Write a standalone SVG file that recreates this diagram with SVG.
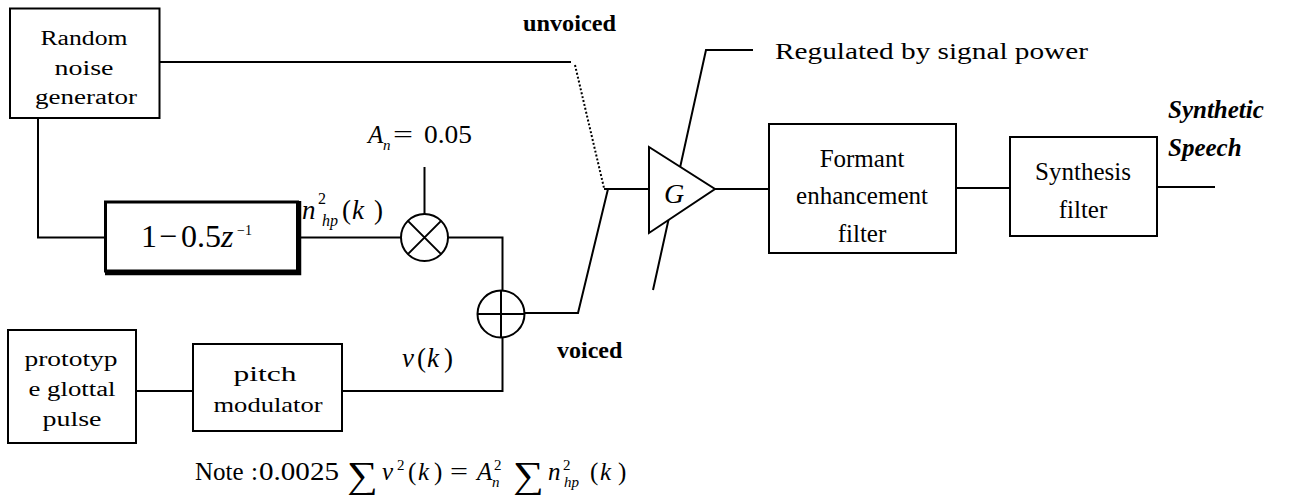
<svg xmlns="http://www.w3.org/2000/svg" width="1295" height="495" viewBox="0 0 1295 495">
<style>
.box{fill:#fff;stroke:#000;stroke-width:2}
.ln{fill:none;stroke:#000;stroke-width:2}
.t{font-family:"Liberation Serif","Times New Roman",serif;fill:#000}
.i{font-style:italic}
.b{font-weight:bold}
.sig{font-family:"Liberation Serif","DejaVu Serif",serif;fill:#000}
</style>
<rect width="1295" height="495" fill="#fff"/>
<g id="connectors">
<path class="ln" d="M160,62 H571"/>
<path class="ln" d="M575,65 L604,188" stroke-dasharray="2,2"/>
<path class="ln" d="M38,118 V237.5 H105"/>
<path class="ln" d="M300,237.5 H401"/>
<path class="ln" d="M424.5,167 V214"/>
<path class="ln" d="M448,237.5 H502.5 V290"/>
<path class="ln" d="M136,391 H193"/>
<path class="ln" d="M342,391 H502.5 V338"/>
<path class="ln" d="M525,313 H578 L608,189"/>
<path class="ln" d="M604,189 H649"/>
<path class="ln" d="M653,290 L706,50 H753"/>
<path class="ln" d="M715,189 H769"/>
<path class="ln" d="M956,188 H1010"/>
<path class="ln" d="M1157,187 H1215"/>
</g>
<g id="noise">
<rect class="box" x="10" y="8.5" width="149.5" height="109.5"/>
<text class="t" font-size="20" x="84" y="45" text-anchor="middle" textLength="87" lengthAdjust="spacingAndGlyphs">Random</text>
<text class="t" font-size="20" x="84" y="75" text-anchor="middle" textLength="59" lengthAdjust="spacingAndGlyphs">noise</text>
<text class="t" font-size="20" x="86" y="104" text-anchor="middle" textLength="102" lengthAdjust="spacingAndGlyphs">generator</text>
</g>
<g id="hpfilter">
<rect x="105.5" y="202" width="192" height="69" fill="#fff" stroke="#000" stroke-width="3"/>
<path d="M299.5,201 V273.5 H105" fill="none" stroke="#000" stroke-width="3.5"/>
<text class="t" font-size="32" y="247"><tspan x="141">1</tspan><tspan x="159">−</tspan><tspan x="181">0.5</tspan><tspan x="221" class="i">z</tspan></text>
<text class="t" font-size="14" y="235"><tspan x="237">−1</tspan></text>
</g>
<g id="nhp-label">
<text class="t i" font-size="27" x="302" y="219">n</text>
<text class="t" font-size="16" x="318" y="204">2</text>
<text class="t i" font-size="16" x="322" y="226">hp</text>
<text class="t" font-size="27" y="219"><tspan x="342">(</tspan><tspan x="352" class="i">k</tspan><tspan x="374">)</tspan></text>
</g>
<g id="gain-label">
<text class="t i" font-size="25" x="368" y="143">A</text>
<text class="t i" font-size="15" x="383" y="150">n</text>
<text class="t" font-size="25" x="393" y="143" textLength="20" lengthAdjust="spacingAndGlyphs">=</text>
<text class="t" font-size="25" x="424" y="143" textLength="48" lengthAdjust="spacingAndGlyphs">0.05</text>
</g>
<g id="multiplier">
<circle cx="424.5" cy="237.5" r="23.5" fill="#fff" stroke="#000" stroke-width="2"/>
<path class="ln" d="M407.9,220.9 L441.1,254.1 M441.1,220.9 L407.9,254.1"/>
</g>
<g id="adder">
<circle cx="501" cy="314" r="23.5" fill="#fff" stroke="#000" stroke-width="2"/>
<path class="ln" d="M477.5,314 H524.5 M501,290.5 V337.5"/>
</g>
<g id="prototype">
<rect class="box" x="8" y="330" width="128" height="113"/>
<text class="t" font-size="20" x="71" y="366" text-anchor="middle" textLength="93" lengthAdjust="spacingAndGlyphs">prototyp</text>
<text class="t" font-size="20" x="72" y="396" text-anchor="middle" textLength="87" lengthAdjust="spacingAndGlyphs">e glottal</text>
<text class="t" font-size="20" x="72" y="426" text-anchor="middle" textLength="59" lengthAdjust="spacingAndGlyphs">pulse</text>
</g>
<g id="pitch">
<rect class="box" x="193" y="344" width="149" height="87"/>
<text class="t" font-size="21" x="265" y="381" text-anchor="middle" textLength="63" lengthAdjust="spacingAndGlyphs">pitch</text>
<text class="t" font-size="21" x="268" y="412" text-anchor="middle" textLength="109" lengthAdjust="spacingAndGlyphs">modulator</text>
</g>
<g id="vk-label">
<text class="t" font-size="27" y="367"><tspan x="402" class="i">v</tspan><tspan x="417">(</tspan><tspan x="427" class="i">k</tspan><tspan x="444">)</tspan></text>
</g>
<g id="switch-labels">
<text class="t b" font-size="24" x="523" y="31" textLength="93" lengthAdjust="spacingAndGlyphs">unvoiced</text>
<text class="t b" font-size="24" x="557" y="358">voiced</text>
</g>
<g id="amplifier">
<polygon points="649,147 649,233 715,189" fill="#fff" stroke="#000" stroke-width="2"/>
<text class="t i" font-size="28" x="664" y="203">G</text>
</g>
<g id="regulated">
<text class="t" font-size="23" x="775" y="59" textLength="313" lengthAdjust="spacingAndGlyphs">Regulated by signal power</text>
</g>
<g id="formant">
<rect class="box" x="769" y="124" width="187" height="129"/>
<text class="t" font-size="25" x="862" y="167" text-anchor="middle">Formant</text>
<text class="t" font-size="25" x="862" y="204" text-anchor="middle">enhancement</text>
<text class="t" font-size="25" x="862" y="242" text-anchor="middle">filter</text>
</g>
<g id="synthesis">
<rect class="box" x="1010" y="137" width="147" height="99"/>
<text class="t" font-size="25" x="1083" y="180" text-anchor="middle">Synthesis</text>
<text class="t" font-size="25" x="1083" y="218" text-anchor="middle">filter</text>
</g>
<g id="output-label">
<text class="t b i" font-size="25" x="1168" y="118">Synthetic</text>
<text class="t b i" font-size="25" x="1168" y="156">Speech</text>
</g>
<g id="note">
<text class="t" font-size="25" y="480"><tspan x="195">Note</tspan><tspan x="251">:</tspan></text>
<text class="t" font-size="25" x="259" y="480" textLength="80" lengthAdjust="spacingAndGlyphs">0.0025</text>
<text class="sig" font-size="38" x="347" y="488" textLength="31" lengthAdjust="spacingAndGlyphs">∑</text>
<text class="t i" font-size="25" x="382" y="480">v</text>
<text class="t" font-size="15" x="397" y="470">2</text>
<text class="t" font-size="25" y="480"><tspan x="408">(</tspan><tspan x="418" class="i">k</tspan><tspan x="434">)</tspan></text>
<text class="t" font-size="25" x="450" y="480" textLength="18" lengthAdjust="spacingAndGlyphs">=</text>
<text class="t i" font-size="25" x="477" y="480">A</text>
<text class="t" font-size="15" x="494" y="470">2</text>
<text class="t i" font-size="15" x="492" y="487">n</text>
<text class="sig" font-size="38" x="513" y="488" textLength="31" lengthAdjust="spacingAndGlyphs">∑</text>
<text class="t i" font-size="25" x="548" y="480">n</text>
<text class="t" font-size="15" x="563" y="470">2</text>
<text class="t i" font-size="15" x="564" y="487">hp</text>
<text class="t" font-size="25" y="480"><tspan x="590">(</tspan><tspan x="600" class="i">k</tspan><tspan x="618">)</tspan></text>
</g>
</svg>
